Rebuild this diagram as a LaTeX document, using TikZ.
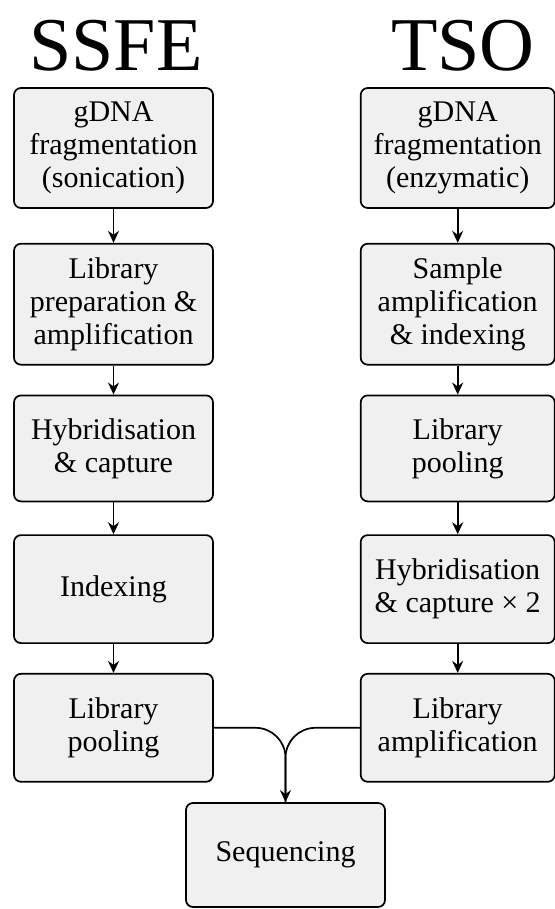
\documentclass[tikz,border=0pt]{standalone}
\usepackage{fontspec}
\setmainfont{Liberation Serif}
\usetikzlibrary{positioning,arrows.meta}
\definecolor{boxgray}{HTML}{F0F0F0}
\tikzset{
    stage/.style={
           rectangle,
           rounded corners=7pt,
           draw=black, line width=1.7pt,
           fill=boxgray,
           minimum width=199pt,
           inner sep=2pt,
           align=center,
           font=\fontsize{30}{33}\selectfont,
           },
    title/.style={
           font=\fontsize{76}{80}\selectfont,
           anchor=base,
           },
}

\begin{document}
\begin{tikzpicture}[x=1pt,y=-1pt,->,>={Stealth[length=12pt,width=11pt]},line width=1.7pt]
 \useasboundingbox (0,0) rectangle (554,909);

 \node[title] (SSFE) at (116,71) {SSFE};
 \node[title] (TSO) at (463,71) {TSO};

 % SSFE column
 \node[stage, minimum height=120pt] (L1) at (113.5,148)
 {gDNA\\fragmentation\\(sonication)};
 \node[stage, minimum height=121pt, below=34pt of L1] (L2)
 {Library\\preparation \&\\amplification};
 \node[stage, minimum height=106pt, below=29pt of L2] (L3)
 {Hybridisation\\\& capture};
 \node[stage, minimum height=108pt, below=32pt of L3] (L4)
 {Indexing};
 \node[stage, minimum height=108pt, below=29pt of L4] (L5)
 {Library\\pooling};

 % TSO column
 \node[stage, minimum width=194pt, minimum height=120pt, right=146pt of L1] (R1)
 {gDNA\\fragmentation\\(enzymatic)};
 \node[stage, minimum width=194pt, minimum height=121pt, right=146pt of L2] (R2)
 {Sample\\amplification\\\& indexing};
 \node[stage, minimum width=194pt, minimum height=106pt, right=146pt of L3] (R3)
 {Library\\pooling};
 \node[stage, minimum width=194pt, minimum height=108pt, right=146pt of L4] (R4)
 {Hybridisation\\\& capture × 2};
 \node[stage, minimum width=194pt, minimum height=108pt, right=146pt of L5] (R5)
 {Library\\amplification};

 \node[stage, minimum height=104pt] (Seq) at (285.5,855) {Sequencing};

 \draw (L1) -- (L2);
 \draw (L2) -- (L3);
 \draw (L3) -- (L4);
 \draw (L4) -- (L5);
 \draw (R1) -- (R2);
 \draw (R2) -- (R3);
 \draw (R3) -- (R4);
 \draw (R4) -- (R5);

 % merge into sequencing
 \draw[rounded corners=30pt] (L5.east) -| (Seq.north);
 \draw[-, rounded corners=30pt] (R5.west) -| (Seq.north);

\end{tikzpicture}
\end{document}
